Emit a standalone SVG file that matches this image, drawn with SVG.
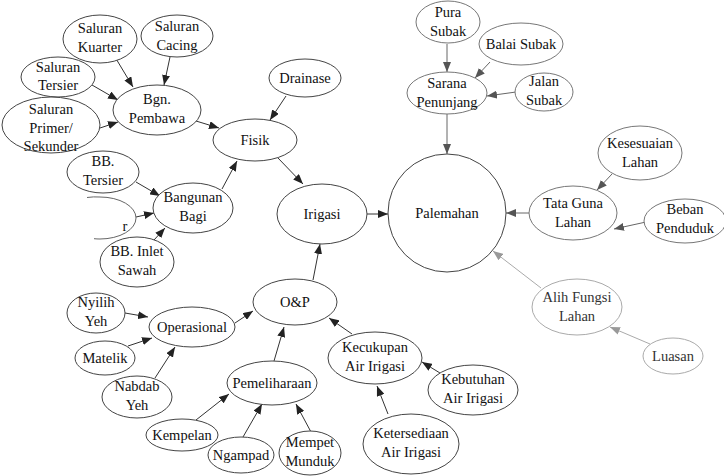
<svg xmlns="http://www.w3.org/2000/svg" width="724" height="476" viewBox="0 0 724 476">
  <style>
    text { font-family: "Times New Roman", Times, "Liberation Serif", Tinos, "Noto Serif", "DejaVu Serif", serif; font-size: 14.5px; fill: #111; text-anchor: middle; }
    ellipse { fill: #fff; stroke: #444; stroke-width: 1; }
    .arc { fill: none; stroke: #666; stroke-width: 1; }
    .mid ellipse { stroke: #777; }
    .soft ellipse { stroke: #aaa; }
    .soft text { fill: #333; }
    .edge { stroke: #333; stroke-width: 1; fill: none; marker-end: url(#ah); }
    .edge.mid { stroke: #666; marker-end: url(#ahm); }
    .edge.soft { stroke: #aaa; marker-end: url(#ahs); }
  </style>
  <defs>
    <marker id="ah" viewBox="0 0 10 8" refX="10" refY="4" markerWidth="10" markerHeight="8" markerUnits="userSpaceOnUse" orient="auto">
      <path d="M0,0 L10,4 L0,8 z" fill="#222"/>
    </marker>
    <marker id="ahm" viewBox="0 0 10 8" refX="10" refY="4" markerWidth="10" markerHeight="8" markerUnits="userSpaceOnUse" orient="auto">
      <path d="M0,0 L10,4 L0,8 z" fill="#555"/>
    </marker>
    <marker id="ahs" viewBox="0 0 10 8" refX="10" refY="4" markerWidth="10" markerHeight="8" markerUnits="userSpaceOnUse" orient="auto">
      <path d="M0,0 L10,4 L0,8 z" fill="#999"/>
    </marker>
  </defs>

  <!-- connectors -->
  <g id="connectors">
    <line class="edge" x1="115" y1="57" x2="133" y2="87"/>
    <line class="edge" x1="170" y1="57" x2="164" y2="85"/>
    <line class="edge" x1="92" y1="85" x2="118" y2="100"/>
    <line class="edge" x1="100" y1="128" x2="118" y2="122"/>
    <line class="edge" x1="196" y1="121" x2="219" y2="128"/>
    <line class="edge" x1="286" y1="96" x2="270" y2="120"/>
    <line class="edge" x1="136" y1="182" x2="160" y2="196"/>
    <line class="edge" x1="136" y1="217" x2="154" y2="213"/>
    <line class="edge" x1="154" y1="240" x2="165" y2="228"/>
    <line class="edge" x1="222" y1="189" x2="237" y2="161"/>
    <line class="edge" x1="278" y1="158" x2="303" y2="184"/>
    <line class="edge" x1="367" y1="214" x2="388" y2="214"/>
    <line class="edge" x1="313" y1="280" x2="320" y2="244"/>
    <line class="edge" x1="235" y1="323" x2="253" y2="311"/>
    <line class="edge" x1="274" y1="361" x2="284" y2="327"/>
    <line class="edge" x1="352" y1="334" x2="329" y2="318"/>
    <line class="edge" x1="440" y1="373" x2="422" y2="362"/>
    <line class="edge" x1="388" y1="414" x2="377" y2="386"/>
    <line class="edge" x1="125" y1="313" x2="148" y2="317"/>
    <line class="edge" x1="128" y1="346" x2="152" y2="338"/>
    <line class="edge" x1="155" y1="378" x2="175" y2="347"/>
    <line class="edge" x1="196" y1="420" x2="229" y2="394"/>
    <line class="edge" x1="243" y1="437" x2="262" y2="404"/>
    <line class="edge" x1="311" y1="432" x2="296" y2="404"/>
    <line class="edge mid" x1="447" y1="44" x2="447" y2="72"/>
    <line class="edge mid" x1="490" y1="62" x2="475" y2="78"/>
    <line class="edge mid" x1="516" y1="92" x2="487" y2="96"/>
    <line class="edge mid" x1="447" y1="114" x2="447" y2="154"/>
    <line class="edge mid" x1="530" y1="213" x2="506" y2="213"/>
    <line class="edge mid" x1="612" y1="174" x2="597" y2="190"/>
    <line class="edge mid" x1="646" y1="222" x2="614" y2="229"/>
    <line class="edge soft" x1="541" y1="288" x2="493" y2="251"/>
    <line class="edge soft" x1="650" y1="344" x2="610" y2="327"/>
  </g>

  <!-- Fisik branch -->
  <g id="saluran-kuarter"><ellipse cx="100" cy="39" rx="37" ry="24"/><text x="100" y="33">Saluran</text><text x="100" y="52">Kuarter</text></g>
  <g id="saluran-cacing"><ellipse cx="177" cy="36" rx="36" ry="21"/><text x="177" y="31">Saluran</text><text x="177" y="50">Cacing</text></g>
  <g id="saluran-tersier"><ellipse cx="58" cy="77" rx="37" ry="20"/><text x="58" y="72">Saluran</text><text x="58" y="90">Tersier</text></g>
  <g id="saluran-primer"><ellipse cx="51" cy="125" rx="49" ry="28"/><text x="51" y="114">Saluran</text><text x="51" y="133">Primer/</text><text x="51" y="151">Sekunder</text></g>
  <g id="bgn-pembawa"><ellipse cx="157" cy="110" rx="44" ry="25"/><text x="157" y="104">Bgn.</text><text x="157" y="123">Pembawa</text></g>
  <g id="drainase"><ellipse cx="305" cy="78" rx="36" ry="19"/><text x="305" y="83">Drainase</text></g>
  <g id="fisik"><ellipse cx="255" cy="140" rx="42" ry="21"/><text x="255" y="145">Fisik</text></g>
  <g id="bb-tersier"><ellipse cx="103" cy="172" rx="36" ry="21"/><text x="103" y="166">BB.</text><text x="103" y="185">Tersier</text></g>
  <g id="bb-kuarter"><path class="arc" d="M87,197.5 A36,21 0 0 1 100,197 A36,21 0 0 1 100,239 A36,21 0 0 1 94,238.7"/><text x="125" y="231">r</text></g>
  <g id="bangunan-bagi"><ellipse cx="193" cy="208" rx="40" ry="25"/><text x="193" y="202">Bangunan</text><text x="193" y="221">Bagi</text></g>
  <g id="bb-inlet-sawah"><ellipse cx="137" cy="262" rx="37" ry="25"/><text x="137" y="256">BB. Inlet</text><text x="137" y="275">Sawah</text></g>

  <!-- centre -->
  <g id="irigasi"><ellipse cx="322" cy="214" rx="45" ry="30"/><text x="322" y="219">Irigasi</text></g>
  <g id="pelemahan"><ellipse cx="447" cy="213" rx="59" ry="59"/><text x="447" y="218">Palemahan</text></g>

  <!-- O&P branch -->
  <g id="op"><ellipse cx="295" cy="302" rx="42" ry="23"/><text x="295" y="307">O&amp;P</text></g>
  <g id="operasional"><ellipse cx="192" cy="327" rx="43" ry="20"/><text x="192" y="332">Operasional</text></g>
  <g id="nyilih-yeh"><ellipse cx="96" cy="313" rx="29" ry="20"/><text x="96" y="307">Nyilih</text><text x="96" y="326">Yeh</text></g>
  <g id="matelik"><ellipse cx="105" cy="358" rx="30" ry="17"/><text x="105" y="363">Matelik</text></g>
  <g id="nabdab-yeh"><ellipse cx="137" cy="397" rx="35" ry="21"/><text x="137" y="391">Nabdab</text><text x="137" y="410">Yeh</text></g>
  <g id="pemeliharaan"><ellipse cx="272" cy="383" rx="45" ry="22"/><text x="272" y="388">Pemeliharaan</text></g>
  <g id="kempelan"><ellipse cx="182" cy="435" rx="36" ry="16"/><text x="182" y="440">Kempelan</text></g>
  <g id="ngampad"><ellipse cx="241" cy="455" rx="33" ry="18"/><text x="241" y="460">Ngampad</text></g>
  <g id="mempet-munduk"><ellipse cx="310" cy="453" rx="31" ry="22"/><text x="310" y="447">Mempet</text><text x="310" y="466">Munduk</text></g>
  <g id="kecukupan"><ellipse cx="375" cy="358" rx="47" ry="26"/><text x="375" y="352">Kecukupan</text><text x="375" y="371">Air Irigasi</text></g>
  <g id="kebutuhan"><ellipse cx="473" cy="390" rx="45" ry="25"/><text x="473" y="384">Kebutuhan</text><text x="473" y="403">Air Irigasi</text></g>
  <g id="ketersediaan"><ellipse cx="411" cy="444" rx="48" ry="30"/><text x="411" y="438">Ketersediaan</text><text x="411" y="457">Air Irigasi</text></g>

  <!-- Sarana Penunjang branch -->
  <g id="pura-subak" class="mid"><ellipse cx="448" cy="22" rx="32" ry="21"/><text x="448" y="17">Pura</text><text x="448" y="36">Subak</text></g>
  <g id="balai-subak" class="mid"><ellipse cx="521" cy="44" rx="42" ry="21"/><text x="521" y="49">Balai Subak</text></g>
  <g id="jalan-subak" class="mid"><ellipse cx="544" cy="92" rx="29" ry="19"/><text x="544" y="86">Jalan</text><text x="544" y="105">Subak</text></g>
  <g id="sarana-penunjang" class="mid"><ellipse cx="447" cy="93" rx="40" ry="21"/><text x="447" y="88">Sarana</text><text x="447" y="107">Penunjang</text></g>

  <!-- Tata Guna Lahan branch -->
  <g id="tata-guna-lahan" class="mid"><ellipse cx="573" cy="213" rx="44" ry="27"/><text x="573" y="208">Tata Guna</text><text x="573" y="227">Lahan</text></g>
  <g id="kesesuaian-lahan" class="mid"><ellipse cx="640" cy="153" rx="42" ry="27"/><text x="640" y="148">Kesesuaian</text><text x="640" y="167">Lahan</text></g>
  <g id="beban-penduduk" class="mid"><ellipse cx="685" cy="221" rx="41" ry="22"/><text x="685" y="214">Beban</text><text x="685" y="233">Penduduk</text></g>
  <g id="alih-fungsi-lahan" class="soft"><ellipse cx="577" cy="307" rx="45" ry="28"/><text x="577" y="302">Alih Fungsi</text><text x="577" y="321">Lahan</text></g>
  <g id="luasan" class="soft"><ellipse cx="673" cy="356" rx="30" ry="18"/><text x="673" y="361">Luasan</text></g>
</svg>
